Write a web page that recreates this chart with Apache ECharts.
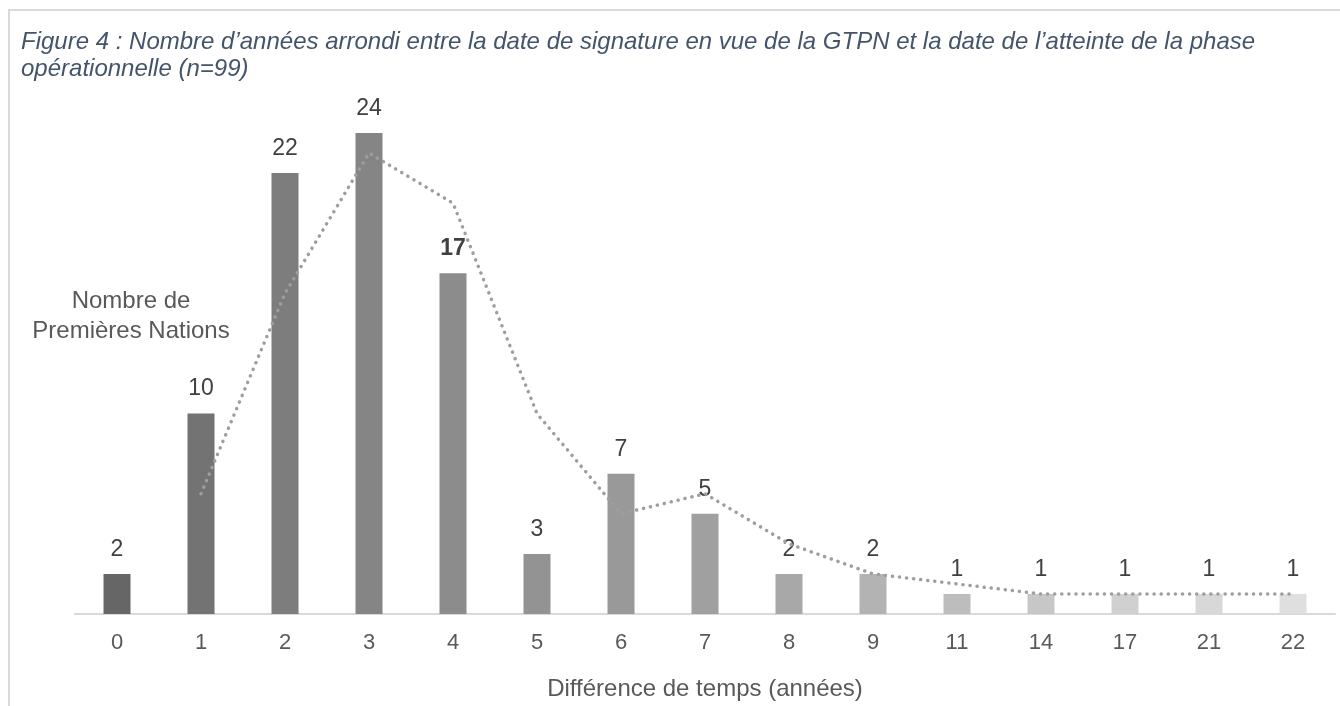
<!DOCTYPE html>
<html>
<head>
<meta charset="utf-8">
<script src="https://cdn.jsdelivr.net/npm/echarts@6/dist/echarts.min.js"></script>
<style>
  html, body { margin: 0; padding: 0; background: #fff; }
  #frame { position: absolute; left: 8px; top: 9px; width: 1400px; height: 720px;
           border-top: 2px solid #d9d9d9; border-left: 2px solid #d9d9d9; }
  #chart { position: absolute; left: 0; top: 0; width: 1340px; height: 706px; }
</style>
</head>
<body>
<div id="frame"></div>
<div id="chart"></div>
<script>
const categories = ['0', '1', '2', '3', '4', '5', '6', '7', '8', '9', '11', '14', '17', '21', '22'];
const counts = [2, 10, 22, 24, 17, 3, 7, 5, 2, 2, 1, 1, 1, 1, 1];
// dotted trend line
const trend = [null, 6, 16, 23, 20.5, 10, 5, 6, 3.5, 2, 1.5, 1, 1, 1, 1];
const barColors = ['#666666', '#737373', '#7d7d7d', '#858585', '#8c8c8c', '#939393', '#999999',
  '#a0a0a0', '#a8a8a8', '#b3b3b3', '#bdbdbd', '#c7c7c7', '#d0d0d0', '#d8d8d8', '#dfdfdf'];

const font = 'Liberation Sans, Arial, sans-serif';
const chart = echarts.init(document.getElementById('chart'));

const option = {
  animation: false,
  textStyle: { fontFamily: font },
  title: {
    text: 'Figure 4 : Nombre d\u2019années arrondi entre la date de signature en vue de la GTPN et la date de l\u2019atteinte de la phase\nopérationnelle (n=99)',
    left: 21,
    top: 29,
    padding: 0,
    textStyle: { fontSize: 24, fontStyle: 'italic', fontWeight: 'normal', color: '#44546a', lineHeight: 27 }
  },
  graphic: [{
    type: 'text',
    x: 131,
    y: 316,
    style: {
      text: 'Nombre de\nPremières Nations',
      align: 'center', verticalAlign: 'middle',
      fontSize: 24, lineHeight: 30,
      fill: '#595959',
      fontFamily: font
    }
  }],
  grid: { left: 75, right: 5, top: 133, bottom: 87 },
  xAxis: {
    type: 'category',
    data: categories,
    name: 'Différence de temps (années)',
    nameLocation: 'middle',
    nameGap: 63,
    nameTextStyle: { fontSize: 24, color: '#595959' },
    axisLine: { lineStyle: { color: '#d9d9d9', width: 2 } },
    axisTick: { show: false },
    axisLabel: { fontSize: 22, color: '#595959', margin: 18 }
  },
  yAxis: {
    type: 'value',
    min: 0,
    max: 24,
    show: false
  },
  series: [{
    type: 'bar',
    data: counts.map((v, i) => ({
      value: v,
      itemStyle: { color: barColors[i] },
      label: i === 4 ? { fontWeight: 'bold' } : {}
    })),
    barWidth: 27,
    label: {
      show: true,
      position: 'top',
      distance: 13,
      fontSize: 23,
      color: '#404040'
    },
    z: 2
  }, {
    type: 'line',
    data: trend,
    symbol: 'none',
    lineStyle: { color: '#9e9e9e', width: 3.5, type: [0.1, 7], cap: 'round' },
    z: 3
  }]
};

chart.setOption(option);
</script>
</body>
</html>
